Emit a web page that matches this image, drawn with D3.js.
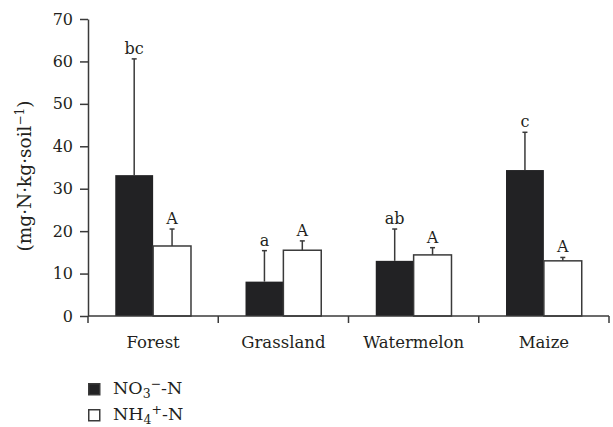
<!DOCTYPE html>
<html>
<head>
<meta charset="utf-8">
<script src="https://cdn.jsdelivr.net/npm/d3@7"></script>
<style>
  body { margin: 0; background: #fff; }
  text { font-family: "DejaVu Serif", serif; fill: #231f20; }
</style>
</head>
<body>
<div id="chart"></div>
<script>
// data
var sites = ["Forest", "Grassland", "Watermelon", "Maize"];
var series = ["NO3", "NH4"];
var no3Values = [33.2, 8.1, 13.0, 34.4];
var no3Errors = [27.4, 7.3, 7.5, 8.9];
var no3Letters = ["bc", "a", "ab", "c"];
var nh4Values = [16.5, 15.5, 14.4, 13.0];
var nh4Errors = [4.0, 2.2, 1.7, 0.8];
var nh4Letters = ["A", "A", "A", "A"];
var yTicks = [0, 10, 20, 30, 40, 50, 60, 70];

var svgWidth = 613;
var svgHeight = 427;
var margin = { top: 19, right: 4, bottom: 111, left: 88 };
var width = svgWidth - margin.left - margin.right;
var height = svgHeight - margin.top - margin.bottom;

var svg = d3.select("#chart")
    .append("svg")
    .attr("width", svgWidth)
    .attr("height", svgHeight);

var chartGroup = svg.append("g")
    .attr("transform", `translate(${margin.left}, ${margin.top})`);

var rows = [];
sites.forEach(function(s, i) {
    rows.push({ site: s, key: "NO3", value: no3Values[i], err: no3Errors[i], letter: no3Letters[i] });
    rows.push({ site: s, key: "NH4", value: nh4Values[i], err: nh4Errors[i], letter: nh4Letters[i] });
});

// scales
var x0 = d3.scaleBand().domain(sites).range([0, width]).padding(0);
var x1 = d3.scaleBand().domain(series).range([0, x0.bandwidth()])
    .paddingInner(0).paddingOuter(0.72);
var y = d3.scaleLinear().domain([0, 70]).range([height, 0]);

var axisColor = "#3a3a3a";

// y axis
var leftAxis = d3.axisLeft(y).tickValues(yTicks).tickSize(8).tickSizeOuter(0).tickPadding(7);
var yAxisG = chartGroup.append("g").call(leftAxis);
yAxisG.select(".domain").attr("stroke", axisColor).attr("stroke-width", 1.5);
yAxisG.selectAll(".tick line").attr("stroke", axisColor).attr("stroke-width", 1.5);
yAxisG.selectAll(".tick text")
    .attr("font-size", 16)
    .attr("fill", "#231f20");

// bars
var fills = { NO3: "#222224", NH4: "#ffffff" };
chartGroup.selectAll("rect.bar")
    .data(rows)
    .enter()
    .append("rect")
    .attr("class", "bar")
    .attr("x", d => x0(d.site) + x1(d.key))
    .attr("y", d => y(d.value))
    .attr("width", x1.bandwidth())
    .attr("height", d => height - y(d.value))
    .attr("fill", d => fills[d.key])
    .attr("stroke", d => d.key == "NO3" ? "none" : axisColor)
    .attr("stroke-width", 1.5);

// error bars (upper half only)
var cx = d => x0(d.site) + x1(d.key) + x1.bandwidth() / 2;
chartGroup.selectAll("line.err")
    .data(rows)
    .enter()
    .append("line")
    .attr("class", "err")
    .attr("x1", cx).attr("x2", cx)
    .attr("y1", d => y(d.value))
    .attr("y2", d => y(d.value + d.err))
    .attr("stroke", axisColor)
    .attr("stroke-width", 1.5);

chartGroup.selectAll("line.cap")
    .data(rows)
    .enter()
    .append("line")
    .attr("class", "cap")
    .attr("x1", d => cx(d) - 2.5).attr("x2", d => cx(d) + 2.5)
    .attr("y1", d => y(d.value + d.err))
    .attr("y2", d => y(d.value + d.err))
    .attr("stroke", axisColor)
    .attr("stroke-width", 1.5);

// significance letters
chartGroup.selectAll("text.letter")
    .data(rows)
    .enter()
    .append("text")
    .attr("class", "letter")
    .attr("x", cx)
    .attr("y", d => y(d.value + d.err) - 5)
    .attr("text-anchor", "middle")
    .attr("font-size", 16)
    .text(d => d.letter);

// x axis: line with ticks at the band edges
var xAxisG = chartGroup.append("g").attr("transform", `translate(0, ${height})`);
xAxisG.append("line")
    .attr("x1", 0).attr("x2", width)
    .attr("stroke", axisColor).attr("stroke-width", 1.5);
var edges = sites.map(s => x0(s)).concat([x0.range()[1]]);
xAxisG.selectAll("line.tick")
    .data(edges)
    .enter()
    .append("line")
    .attr("class", "tick")
    .attr("x1", d => d).attr("x2", d => d)
    .attr("y1", 0).attr("y2", 7)
    .attr("stroke", axisColor).attr("stroke-width", 1.5);
xAxisG.selectAll("text")
    .data(sites)
    .enter()
    .append("text")
    .attr("x", d => x0(d) + x0.bandwidth() / 2)
    .attr("y", 32)
    .attr("text-anchor", "middle")
    .attr("font-size", 16.5)
    .text(d => d);

// y axis label
var yLabel = svg.append("text")
    .attr("transform", `translate(31, 176) rotate(-90)`)
    .attr("text-anchor", "middle")
    .attr("font-size", 18.5);
yLabel.append("tspan").text("(mg·N·kg·soil");
yLabel.append("tspan").attr("font-size", 12).attr("dy", -7).text("−1");
yLabel.append("tspan").attr("dy", 7).text(")");

// legend
var legend = svg.append("g").attr("transform", `translate(${margin.left}, 383)`);
var legendItems = [
    { key: "NO3", main: "NO", sub: "3", sup: "−", tail: "-N" },
    { key: "NH4", main: "NH", sub: "4", sup: "+", tail: "-N" }
];
legendItems.forEach(function(it, i) {
    var g = legend.append("g").attr("transform", `translate(0, ${i * 26})`);
    g.append("rect")
        .attr("x", 0.75).attr("y", 0.75)
        .attr("width", 11).attr("height", 11)
        .attr("fill", fills[it.key])
        .attr("stroke", axisColor).attr("stroke-width", 1.5);
    var t = g.append("text").attr("x", 25).attr("y", 11).attr("font-size", 17.5);
    t.append("tspan").text(it.main);
    t.append("tspan").attr("font-size", 12.5).attr("dy", 4).text(it.sub);
    t.append("tspan").attr("font-size", 12.5).attr("dy", -10).text(it.sup);
    t.append("tspan").attr("dy", 6).text(it.tail);
});
</script>
</body>
</html>
